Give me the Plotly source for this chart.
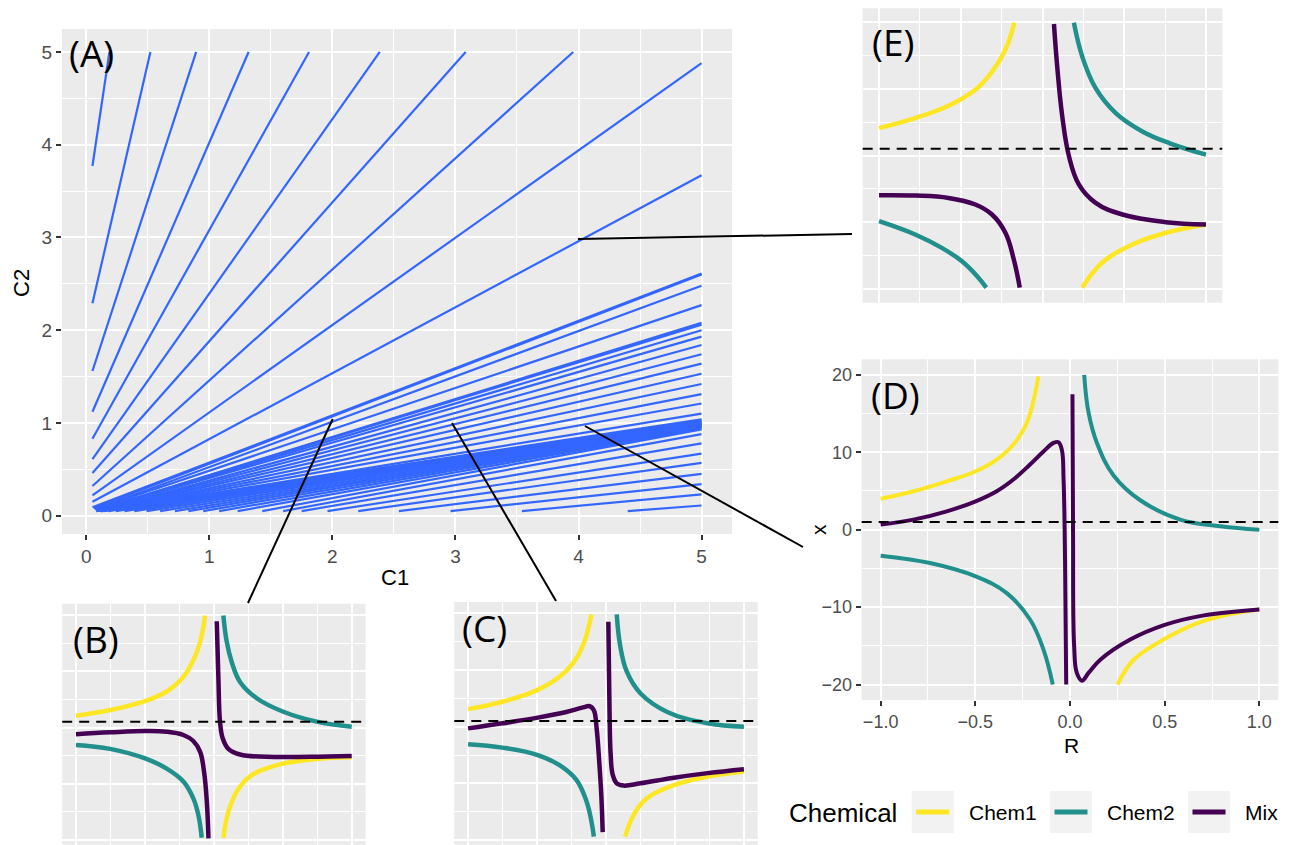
import plotly.graph_objects as go

W, H = 1303, 845

# ---------------- Panel A: isobole segments in the (C1, C2) plane ----------------
A_C1_START = [0.05, 0.05, 0.05, 0.05, 0.05, 0.05, 0.05, 0.05, 0.05, 0.05, 0.05,
              0.06, 0.07, 0.07, 0.08, 0.08, 0.09, 0.09, 0.10, 0.10, 0.11, 0.11, 0.12, 0.12, 0.13, 0.14,
              0.08, 0.12, 0.18, 0.24, 0.31, 0.39, 0.49, 0.60, 0.72, 0.83, 0.95, 1.08, 1.23, 1.43,
              1.60, 1.75, 1.96, 2.21, 2.54, 2.96, 3.54, 4.40]
A_C2_START = [3.77, 2.29, 1.56, 1.12, 0.83, 0.61, 0.46, 0.32, 0.22, 0.15, 0.09,
              0.08, 0.07, 0.07, 0.06, 0.06, 0.06, 0.06, 0.05, 0.05, 0.05, 0.05, 0.05, 0.05, 0.05, 0.05,
              0.05, 0.05, 0.05, 0.05, 0.05, 0.05, 0.05, 0.05, 0.05, 0.05, 0.05, 0.05, 0.05, 0.05,
              0.05, 0.05, 0.05, 0.05, 0.05, 0.05, 0.05, 0.05]
A_C1_END = [0.188, 0.521, 0.893, 1.319, 1.81, 2.385, 3.083, 3.957, 5, 5, 5,
            5, 5, 5, 5, 5, 5, 5, 5, 5, 5, 5, 5, 5, 5, 5,
            5, 5, 5, 5, 5, 5, 5, 5, 5, 5, 5, 5, 5, 5,
            5, 5, 5, 5, 5, 5, 5, 5]
A_C2_END = [5, 5, 5, 5, 5, 5, 5, 5, 4.88, 3.67, 2.61,
            2.60, 2.48, 2.27, 2.08, 2.06, 2.00, 1.93, 1.84, 1.74, 1.64, 1.53, 1.42, 1.31, 1.21, 1.10,
            1.04, 1.03, 1.02, 1.01, 1.00, 0.99, 0.99, 0.98, 0.97, 0.97, 0.96, 0.95, 0.94, 0.93,
            0.88, 0.78, 0.67, 0.57, 0.45, 0.34, 0.23, 0.11]

A_TICKS = [0, 1, 2, 3, 4, 5]

# ---------------- Panels B-E: response x against R ----------------
B_CHEM1_R = [-1, -0.753, -0.499, -0.342, -0.221, -0.137, -0.088, -0.064, None,
             0.069, 0.105, 0.166, 0.262, 0.456, 0.746, 1.0]
B_CHEM1_X = [2.1, 3.1, 4.7, 6.4, 9.0, 12.6, 16.4, 19.9, None,
             -19.6, -15.0, -11.4, -8.7, -6.7, -5.6, -5.3]
B_CHEM2_R = [-1, -0.753, -0.499, -0.342, -0.221, -0.149, -0.112, -0.088, None,
             0.069, 0.093, 0.129, 0.19, 0.311, 0.504, 0.746, 1.0]
B_CHEM2_X = [-3.1, -3.8, -5.5, -7.3, -9.6, -12.6, -15.6, -19.6, None,
             19.9, 15.3, 11.7, 8.1, 5.2, 2.8, 1.04, 0.15]
B_MIX_R = [-1, -0.753, -0.499, -0.342, -0.221, -0.149, -0.1, -0.071, -0.051, -0.039, None,
           0.021, 0.033, 0.045, 0.064, 0.105, 0.19, 0.383, 0.698, 1.0]
B_MIX_X = [-1.2, -0.86, -0.62, -0.74, -1.33, -2.4, -4.3, -7.9, -13.2, -19.7, None,
           18.9, 8.7, 1.0, -1.9, -3.8, -4.8, -5.2, -5.2, -5.07]

C_CHEM1_R = [-1, -0.751, -0.495, -0.337, -0.239, -0.166, -0.105, None,
             0.139, 0.2, 0.298, 0.493, 0.737, 1.0]
C_CHEM1_X = [3.1, 4.4, 6.5, 8.8, 11.2, 14.4, 19.8, None,
             -19.4, -15.6, -12.6, -10.3, -8.8, -7.9]
C_CHEM2_R = [-1, -0.751, -0.495, -0.337, -0.215, -0.141, -0.105, -0.088, None,
             0.078, 0.102, 0.151, 0.249, 0.444, 0.737, 1.0]
C_CHEM2_X = [-3.1, -3.7, -5.0, -6.8, -9.4, -13.2, -16.8, -19.4, None,
             19.8, 14.4, 9.7, 5.9, 2.6, 0.6, 0.0]
C_MIX_R = [-1, -0.751, -0.495, -0.288, -0.166, -0.117, -0.088, -0.068, -0.049, -0.034, -0.024, None,
           0.017, 0.024, 0.034, 0.049, 0.078, 0.127, 0.249, 0.493, 0.737, 1.0]
C_MIX_X = [-0.3, 0.6, 1.6, 2.6, 3.4, 3.6, 2.9, -0.3, -6.2, -12.1, -18.6, None,
           18.5, 5.6, -5.0, -8.5, -10.0, -10.4, -10.0, -9.0, -8.2, -7.5]

D_CHEM1_R = [-1, -0.827, -0.651, -0.498, -0.387, -0.299, -0.228, -0.167, None,
             0.251, 0.336, 0.494, 0.670, 0.847, 1.0]
D_CHEM1_X = [4.0, 4.96, 6.25, 7.54, 9.05, 11.0, 13.8, 19.8, None,
             -20.0, -16.8, -14.2, -12.1, -10.9, -10.3]
D_CHEM2_R = [-1, -0.739, -0.498, -0.334, -0.211, -0.14, -0.091, None,
             0.075, 0.098, 0.142, 0.23, 0.371, 0.582, 0.794, 1.0]
D_CHEM2_X = [-3.36, -4.31, -6.03, -8.19, -11.6, -15.5, -20.0, None,
             20.0, 15.1, 11.2, 7.0, 3.8, 1.3, 0.45, 0.0]
D_MIX_R = [-1, -0.827, -0.651, -0.498, -0.387, -0.299, -0.211, -0.14, -0.087, -0.061, -0.043,
           -0.034, -0.026, -0.02, None,
           0.013, 0.016, 0.022, 0.036, 0.063, 0.098, 0.16, 0.318, 0.5, 0.7, 1.0]
D_MIX_X = [0.65, 1.29, 2.37, 3.66, 4.96, 6.47, 8.41, 10.1, 11.2, 11.3, 10.3,
           6.5, -4.3, -20.0, None,
           17.5, 0.0, -15.1, -18.5, -19.5, -18.5, -16.8, -14.2, -12.3, -11.1, -10.3]

E_CHEM1_R = [-1, -0.779, -0.575, -0.411, -0.309, -0.227, -0.172, None,
             0.243, 0.366, 0.55, 0.755, 1.0]
E_CHEM1_X = [4.1, 5.59, 7.43, 9.81, 12.5, 15.8, 19.85, None,
             -19.75, -16.0, -13.3, -11.55, -10.3]
E_CHEM2_R = [-1, -0.779, -0.616, -0.493, -0.401, -0.344, None,
             0.192, 0.243, 0.325, 0.448, 0.611, 0.775, 1.0]
E_CHEM2_X = [-9.81, -11.8, -13.8, -15.8, -18.0, -19.75, None,
             19.85, 14.8, 10.06, 6.34, 3.6, 1.86, 0.12]
E_MIX_R = [-1, -0.779, -0.575, -0.411, -0.309, -0.227, -0.176, -0.139, None,
           0.07, 0.09, 0.121, 0.162, 0.223, 0.325, 0.489, 0.755, 1.0]
E_MIX_X = [-5.94, -5.99, -6.34, -7.33, -8.82, -11.55, -15.5, -19.75, None,
           19.65, 13.3, 5.84, -0.12, -4.35, -7.08, -8.82, -9.96, -10.3]

REFERENCE_X = 1.0
R_TICKS = [-1.0, -0.5, 0.0, 0.5, 1.0]
R_TICK_TEXT = ["\u22121.0", "\u22120.5", "0.0", "0.5", "1.0"]
X_TICKS = [-20, -10, 0, 10, 20]
X_TICK_TEXT = ["\u221220", "\u221210", "0", "10", "20"]

CHEMICALS = ["Chem1", "Chem2", "Mix"]
CHEM_COLORS = {"Chem1": "#FDE725", "Chem2": "#21908C", "Mix": "#440154"}

BLUE = "#3366FF"
PANEL_BG = "#EBEBEB"
TICK_FONT = "Liberation Sans, Arial, sans-serif"


def fx(px):
    return px / W


def fy(py):
    return 1 - py / H


fig = go.Figure()

# Panel A segments, one trace with gaps between segments
seg_x, seg_y = [], []
for x0, y0, x1, y1 in zip(A_C1_START, A_C2_START, A_C1_END, A_C2_END):
    seg_x += [x0, x1, None]
    seg_y += [y0, y1, None]
fig.add_trace(go.Scatter(x=seg_x, y=seg_y, mode="lines", xaxis="x", yaxis="y",
                         line=dict(color=BLUE, width=2.2), showlegend=False,
                         hoverinfo="skip"))

panels = [
    ("x2", "y2", 4.5, {"Chem1": (B_CHEM1_R, B_CHEM1_X), "Chem2": (B_CHEM2_R, B_CHEM2_X),
                       "Mix": (B_MIX_R, B_MIX_X)}),
    ("x3", "y3", 4.5, {"Chem1": (C_CHEM1_R, C_CHEM1_X), "Chem2": (C_CHEM2_R, C_CHEM2_X),
                       "Mix": (C_MIX_R, C_MIX_X)}),
    ("x4", "y4", 4.0, {"Chem1": (D_CHEM1_R, D_CHEM1_X), "Chem2": (D_CHEM2_R, D_CHEM2_X),
                       "Mix": (D_MIX_R, D_MIX_X)}),
    ("x5", "y5", 4.5, {"Chem1": (E_CHEM1_R, E_CHEM1_X), "Chem2": (E_CHEM2_R, E_CHEM2_X),
                       "Mix": (E_MIX_R, E_MIX_X)}),
]
for xa, ya, lw, series in panels:
    for chem in CHEMICALS:
        r, xv = series[chem]
        fig.add_trace(go.Scatter(x=r, y=xv, mode="lines", xaxis=xa, yaxis=ya,
                                 line=dict(color=CHEM_COLORS[chem], width=lw,
                                           shape="spline", smoothing=1.15),
                                 connectgaps=False, showlegend=False, hoverinfo="skip"))


def grid_axis(domain, rng, major, minor, labels=None, ticktext=None, anchor=None, size=18):
    ax = dict(domain=domain, range=rng, anchor=anchor, showgrid=True, gridcolor="white",
              gridwidth=2, zeroline=False, showline=False, fixedrange=True,
              tickmode="array", tickvals=major,
              minor=dict(tickmode="array", tickvals=minor, showgrid=True,
                         gridcolor="white", gridwidth=1, ticks=""))
    if labels:
        ax.update(ticks="outside", ticklen=5, tickwidth=1.5, tickcolor="#333333",
                  showticklabels=True,
                  tickfont=dict(family=TICK_FONT, size=size, color="#4D4D4D"))
        if ticktext is not None:
            ax["ticktext"] = ticktext
    else:
        ax.update(ticks="", showticklabels=False)
    return ax


A_MINOR = [0.5, 1.5, 2.5, 3.5, 4.5]
R_MINOR = [-0.75, -0.25, 0.25, 0.75]
X_MINOR = [-15, -5, 5, 15]

fig.update_layout(
    width=W, height=H,
    margin=dict(l=0, r=0, t=0, b=0),
    paper_bgcolor="white", plot_bgcolor=PANEL_BG,
    showlegend=False,
    xaxis=grid_axis([fx(62), fx(732)], [-0.1975, 5.2475], A_TICKS, A_MINOR, True, anchor="y", size=19),
    yaxis=grid_axis([fy(534), fy(29)], [-0.1975, 5.2475], A_TICKS, A_MINOR, True, anchor="x", size=19),
    xaxis2=grid_axis([fx(62.2), fx(365.5)], [-1.1, 1.1], R_TICKS, R_MINOR, anchor="y2"),
    yaxis2=grid_axis([0, fy(603.75)], [-20.89, 22], X_TICKS, X_MINOR, anchor="x2"),
    xaxis3=grid_axis([fx(454.3), fx(757.7)], [-1.1, 1.1], R_TICKS, R_MINOR, anchor="y3"),
    yaxis3=grid_axis([0, fy(602)], [-20.88, 22], X_TICKS, X_MINOR, anchor="x3"),
    xaxis4=grid_axis([fx(861.7), fx(1278.3)], [-1.1, 1.1], R_TICKS, R_MINOR, True,
                     R_TICK_TEXT, anchor="y4"),
    yaxis4=grid_axis([fy(700), fy(359.3)], [-22, 22], X_TICKS, X_MINOR, True,
                     X_TICK_TEXT, anchor="x4"),
    xaxis5=grid_axis([fx(862.7), fx(1222.3)], [-1.1, 1.1], R_TICKS, R_MINOR, anchor="y5"),
    yaxis5=grid_axis([fy(302.7), fy(8.3)], [-22, 22], X_TICKS, X_MINOR, anchor="x5"),
)

shapes = []
# dashed reference line x = 1 in each response panel
for n in ["2", "3", "4", "5"]:
    shapes.append(dict(type="line", xref=f"x{n} domain", yref=f"y{n}", x0=0, x1=1,
                       y0=REFERENCE_X, y1=REFERENCE_X, layer="above",
                       line=dict(color="black", width=2, dash="10px,7px")))

# connectors from points in panel A to the zoomed panels
CONNECTORS = [((332.7, 419), (248, 603)),
              ((452, 423), (556, 601)),
              ((585, 426), (803, 547)),
              ((578, 239), (852, 234))]
for (xa0, ya0), (xa1, ya1) in CONNECTORS:
    shapes.append(dict(type="line", xref="paper", yref="paper",
                       x0=fx(xa0), y0=fy(ya0), x1=fx(xa1), y1=fy(ya1),
                       line=dict(color="black", width=2), layer="above"))

# legend keys
KEY_LEFT = [911.7, 1050, 1188]
for left, chem in zip(KEY_LEFT, CHEMICALS):
    shapes.append(dict(type="rect", xref="paper", yref="paper",
                       x0=fx(left), x1=fx(left + 42), y0=fy(833), y1=fy(791),
                       fillcolor="#F2F2F2", line=dict(width=0), layer="above"))
    shapes.append(dict(type="line", xref="paper", yref="paper",
                       x0=fx(left + 4.5), x1=fx(left + 37.5), y0=fy(812), y1=fy(812),
                       line=dict(color=CHEM_COLORS[chem], width=5), layer="above"))
fig.update_layout(shapes=shapes)

annotations = []
PANEL_TAGS = [("(A)", 67, 52), ("(B)", 71, 638), ("(C)", 460, 627),
              ("(D)", 869, 395), ("(E)", 870, 42)]
for txt, px, py in PANEL_TAGS:
    annotations.append(dict(text=txt, x=fx(px), y=fy(py), xref="paper", yref="paper",
                            xanchor="left", yanchor="middle", showarrow=False,
                            font=dict(family="Open Sans, sans-serif", size=37, color="black")))

AXIS_TITLES = [("C1", 395, 577, 0, 22), ("C2", 21, 283, -90, 22),
               ("R", 1071, 745, 0, 21), ("x", 818, 530, -90, 21)]
for txt, px, py, ang, sz in AXIS_TITLES:
    annotations.append(dict(text=txt, x=fx(px), y=fy(py), xref="paper", yref="paper",
                            xanchor="center", yanchor="middle", showarrow=False, textangle=ang,
                            font=dict(family=TICK_FONT, size=sz, color="black")))

annotations.append(dict(text="Chemical", x=fx(787), y=fy(813), xref="paper", yref="paper",
                        xanchor="left", yanchor="middle", showarrow=False,
                        font=dict(family=TICK_FONT, size=26, color="black")))
for left, chem in zip(KEY_LEFT, CHEMICALS):
    annotations.append(dict(text=chem, x=fx(left + 55), y=fy(812), xref="paper", yref="paper",
                            xanchor="left", yanchor="middle", showarrow=False,
                            font=dict(family=TICK_FONT, size=21, color="black")))
fig.update_layout(annotations=annotations)

fig.write_html("out.html")
